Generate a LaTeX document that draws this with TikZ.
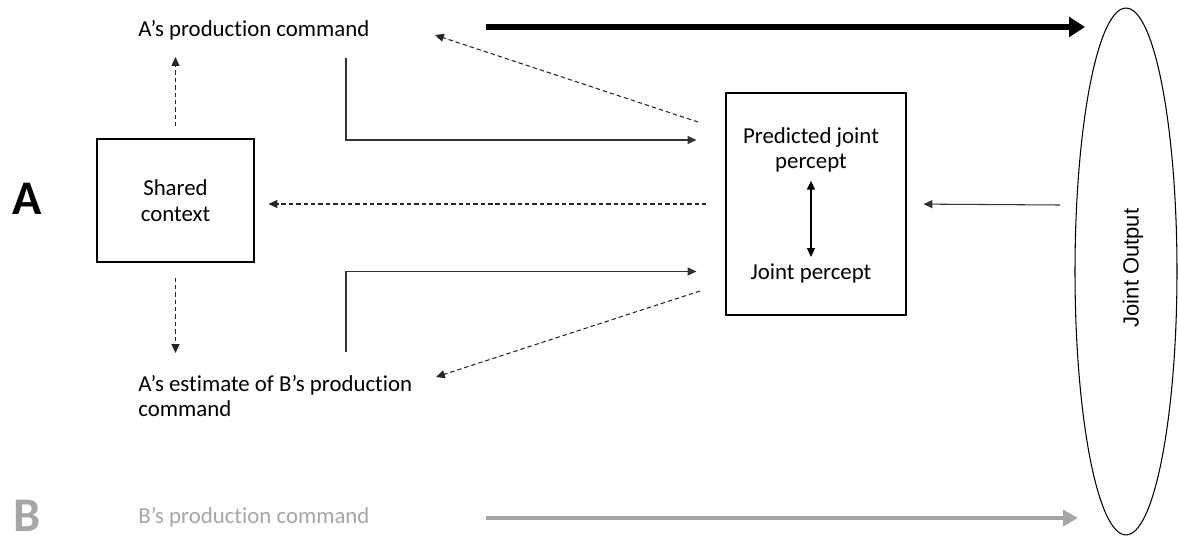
\documentclass[tikz,border=0pt]{standalone}
\usepackage{fontspec}
\setmainfont{Carlito}[RawFeature=-liga]
\newfontfamily\outfont{Liberation Sans}
\usetikzlibrary{arrows.meta,shapes.geometric}
\definecolor{softgrey}{HTML}{A6A6A6}

\begin{document}
\begin{tikzpicture}[x=0.02cm,y=-0.02cm]

\useasboundingbox (0,0) rectangle (1178,538);

\tikzset{%
  txt/.style={inner sep=0pt,font=\fontsize{13}{14.5}\selectfont},
  big/.style={inner sep=0pt,font=\fontsize{27.5}{29}\selectfont\bfseries},
  frame/.style={draw,line width=0.6pt},
}

\node[big,anchor=base west] (labA) at (12,214) {A};
\node[big,anchor=base west,text=softgrey] (labB) at (13,531) {B};

\node[txt,anchor=base west] (prodA) at (138,36) {A’s production command};
\node[txt,anchor=north west,align=left] (estB) at (138,375) {A’s estimate of B’s production\\command};
\node[txt,anchor=base west,text=softgrey] (prodB) at (138,523) {B’s production command};

\node[frame,txt,align=center,minimum width=3.14cm,minimum height=2.46cm] (ctx) at (175.5,200.5) {Shared\\context};

\node[frame,minimum width=3.6cm,minimum height=4.44cm] (percbox) at (816,204) {};
\node[txt,align=center,anchor=north] (pred) at (811,127) {Predicted joint\\percept};
\node[txt,anchor=base] (joint) at (811,279) {Joint percept};

\node[frame,ellipse,minimum width=2.04cm,minimum height=10.54cm] (out) at (1126,271.5) {};
\node[inner sep=0pt,rotate=90,font=\outfont\fontsize{12.5}{14}\selectfont] (outlbl) at (1133,268) {Joint Output};

\coordinate (eA) at (346,58);
\coordinate (eAc) at (346,140);
\coordinate (eB) at (346,352);
\coordinate (eBc) at (346,271.5);
\coordinate (dA0) at (698,122);
\coordinate (dA1) at (435,35);
\coordinate (dB0) at (700,291);
\coordinate (dB1) at (436,377);
\coordinate (kA0) at (486,27);
\coordinate (kA1) at (1085,27);
\coordinate (kB0) at (486,518);
\coordinate (kB1) at (1078,518);
\coordinate (fb) at (1060,205);

\tikzset{arr/.style={-{Triangle[length=5pt,width=4.5pt]}}}
\tikzset{ln/.style={arr,draw=black!80,line width=0.6pt}}
\tikzset{dsh/.style={arr,draw=black!85,line width=0.6pt,dash pattern=on 2.5pt off 1.7pt}}

\draw[dsh,shorten <=0.24cm,shorten >=0.34cm] (ctx.north) -- (ctx.north |- prodA.south);
\draw[dsh,shorten <=0.3cm,shorten >=0.44cm] (ctx.south) -- (ctx.south |- estB.north);
\draw[dsh,shorten <=0.38cm,shorten >=0.28cm] (percbox.west) -- (percbox.west -| ctx.east);
\draw[dsh] (dA0) -- (dA1);
\draw[dsh] (dB0) -- (dB1);

\draw[ln,shorten >=0.58cm] (eA) -- (eAc) -- (eAc -| percbox.west);
\draw[ln,shorten >=0.58cm] (eB) -- (eBc) -- (eBc -| percbox.west);
\draw[ln,shorten >=0.34cm] (fb) -- (percbox.east);
\draw[draw=black,line width=0.6pt,{Triangle[length=5pt,width=4.5pt]}-{Triangle[length=5pt,width=4.5pt]},shorten <=0.16cm,shorten >=0.12cm] (pred.south) -- (joint.north);

\draw[line width=3.4pt,-{Triangle[length=9pt,width=11pt]}] (kA0) -- (kA1);
\draw[softgrey,line width=2.3pt,-{Triangle[length=8.5pt,width=9pt]}] (kB0) -- (kB1);

\end{tikzpicture}
\end{document}
